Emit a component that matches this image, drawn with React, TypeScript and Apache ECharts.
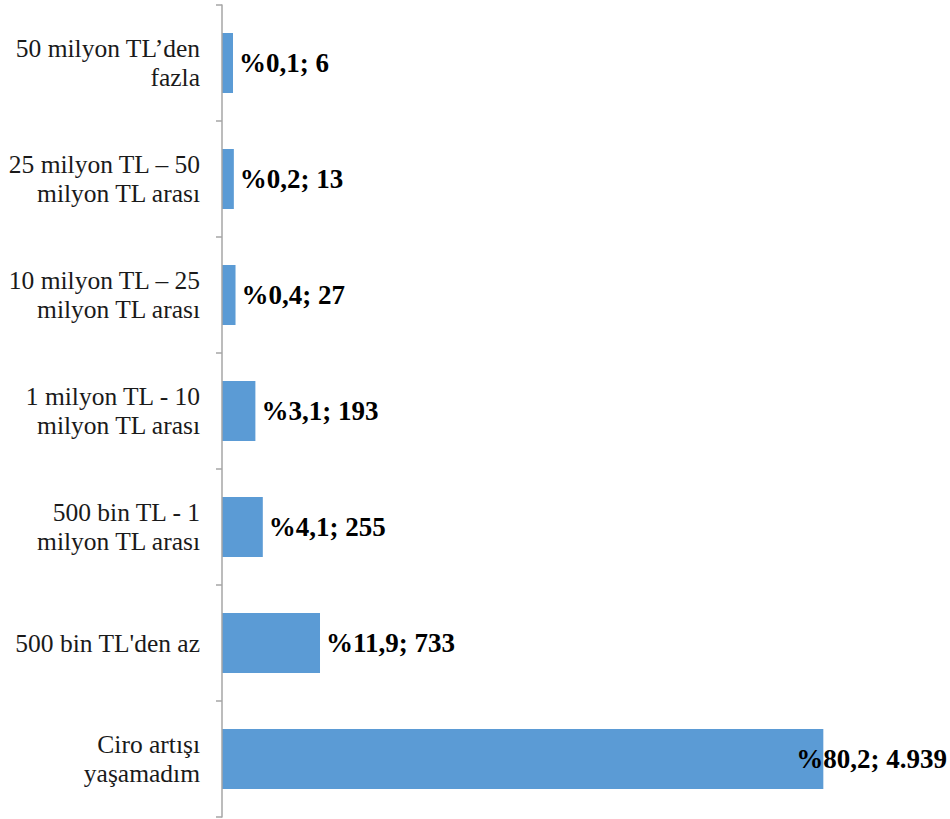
import React, { useEffect, useRef } from "react";
import * as echarts from "echarts";

// Categories, top to bottom
const categories: string[] = [
  "50 milyon TL’den\nfazla",
  "25 milyon TL – 50\nmilyon TL arası",
  "10 milyon TL – 25\nmilyon TL arası",
  "1 milyon TL - 10\nmilyon TL arası",
  "500 bin TL - 1\nmilyon TL arası",
  "500 bin TL'den az",
  "Ciro artışı\nyaşamadım",
];
// Respondent counts
const counts: number[] = [6, 13, 27, 193, 255, 733, 4939];
// Shares (%)
const shares: number[] = [0.1, 0.2, 0.4, 3.1, 4.1, 11.9, 80.2];
// Value axis range (the original axis starts below zero; bars are drawn from the axis line)
const axisMin = -86;
const axisMax = 5914;

const fmtCount = (n: number) => String(n).replace(/\B(?=(\d{3})+(?!\d))/g, ".");
const fmtShare = (n: number) => n.toFixed(1).replace(".", ",");

const BLUE = "#5b9bd5";
const FONT = "'Liberation Serif', 'Times New Roman', serif";

export default function App() {
  const ref = useRef<HTMLDivElement>(null);
  useEffect(() => {
    if (!ref.current) return;
    const chart = echarts.init(ref.current, undefined, { renderer: "svg" });
    const last = counts.length - 1;
    chart.setOption({
      animation: false,
      grid: { left: 222, right: 10, top: 5, bottom: 2, containLabel: false },
      xAxis: {
        type: "value",
        min: axisMin,
        max: axisMax,
        show: false,
      },
      yAxis: {
        type: "category",
        inverse: true,
        data: categories,
        z: 5,
        axisLine: { show: true, onZero: false, lineStyle: { color: "#a6a6a6", width: 1.5 } },
        axisTick: { show: true, length: 6, lineStyle: { color: "#a6a6a6", width: 1.5 } },
        axisLabel: {
          color: "#1a1a1a",
          fontFamily: FONT,
          fontSize: 25.5,
          lineHeight: 29,
          margin: 22,
          align: "right",
        },
        splitLine: { show: false },
      },
      series: [
        {
          type: "custom",
          data: counts.map((c, i) => [c, i]),
          encode: { x: 0, y: 1 },
          renderItem: (params: any, api: any) => {
            const idx = params.dataIndex;
            const end = api.coord([api.value(0), api.value(1)]);
            const x0 = params.coordSys.x;
            const h = 60;
            const isLast = idx === last;
            return {
              type: "rect",
              shape: { x: x0, y: end[1] - h / 2, width: end[0] - x0, height: h },
              style: { fill: BLUE },
              textContent: {
                style: {
                  text: `%${fmtShare(shares[idx])}; ${fmtCount(counts[idx])}`,
                  fill: "#000",
                  fontFamily: FONT,
                  fontWeight: "bold",
                  fontSize: 27,
                },
              },
              textConfig: {
                position: "right",
                distance: isLast ? -27 : 6,
              },
            };
          },
        },
      ],
    });
    return () => chart.dispose();
  }, []);
  return (
    <div
      ref={ref}
      style={{ position: "fixed", left: 0, top: 0, width: 950, height: 819, background: "#fff" }}
    />
  );
}
